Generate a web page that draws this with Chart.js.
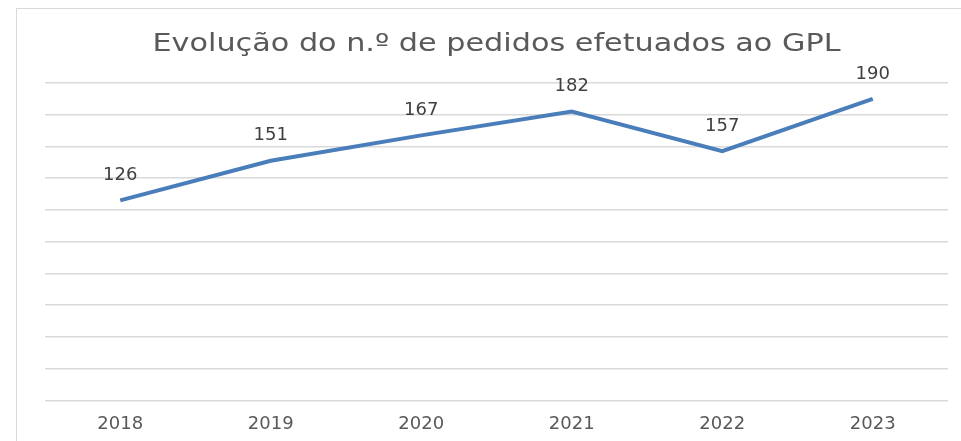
<!DOCTYPE html>
<html>
<head>
<meta charset="utf-8">
<script src="https://cdn.jsdelivr.net/npm/chart.js@4"></script>
<style>
    html, body { margin: 0; padding: 0; background: #fff; }
    .wrap { position: relative; width: 961px; height: 441px; overflow: hidden; }
    .frame { position: absolute; left: 16px; top: 8px; width: 1000px; height: 500px;
             border-left: 1px solid #d9d9d9; border-top: 1px solid #d9d9d9; }
    canvas { position: absolute; left: 0; top: 0; }
</style>
</head>
<body>
<div class="wrap">
    <div class="frame"></div>
    <canvas id="pedidos" width="961" height="441"></canvas>
</div>
<script>
// Evolução do n.º de pedidos
const anos = ['2018', '2019', '2020', '2021', '2022', '2023'];
const pedidos = [126, 151, 167, 182, 157, 190];
const titulo = 'Evolução do n.º de pedidos efetuados ao GPL';

// titulo (a imagem original esta esticada na horizontal)
const tituloLargo = {
    id: 'tituloLargo',
    afterDraw(chart) {
        const ctx = chart.ctx;
        const area = chart.chartArea;
        ctx.save();
        ctx.translate((area.left + area.right) / 2, 44);
        ctx.scale(1.21, 1);
        ctx.font = '25px "DejaVu Sans"';
        ctx.fillStyle = '#595959';
        ctx.textAlign = 'center';
        ctx.textBaseline = 'middle';
        ctx.fillText(titulo, 0, 0);
        ctx.restore();
    }
};

// etiquetas de valor por cima de cada ponto
const valorLabels = {
    id: 'valorLabels',
    afterDatasetsDraw(chart) {
        const ctx = chart.ctx;
        const meta = chart.getDatasetMeta(0);
        ctx.save();
        ctx.font = '18px "DejaVu Sans"';
        ctx.fillStyle = '#404040';
        ctx.textAlign = 'center';
        ctx.textBaseline = 'middle';
        meta.data.forEach((pt, i) => {
            ctx.fillText(String(pedidos[i]), pt.x, pt.y - 25);
        });
        ctx.restore();
    }
};

const ctx = document.getElementById('pedidos').getContext('2d');
new Chart(ctx, {
    type: 'line',
    data: {
        labels: anos,
        datasets: [{
            data: pedidos,
            borderColor: '#4a7ebb',
            borderWidth: 4,
            pointRadius: 0,
            tension: 0,
            fill: false
        }]
    },
    options: {
        responsive: false,
        animation: false,
        layout: { padding: { left: 45, right: 13, top: 83, bottom: 1 } },
        plugins: {
            legend: { display: false },
            tooltip: { enabled: false },
            title: { display: false }
        },
        scales: {
            x: {
                offset: true,
                grid: { display: false },
                border: { display: false },
                ticks: {
                    color: '#595959',
                    font: { family: '"DejaVu Sans"', size: 18 },
                    padding: 5
                }
            },
            y: {
                min: 0,
                max: 200,
                ticks: { display: false, stepSize: 20 },
                grid: { color: '#d9d9d9', lineWidth: 1.5, drawTicks: false },
                border: { display: false }
            }
        }
    },
    plugins: [valorLabels, tituloLargo]
});
</script>
</body>
</html>
